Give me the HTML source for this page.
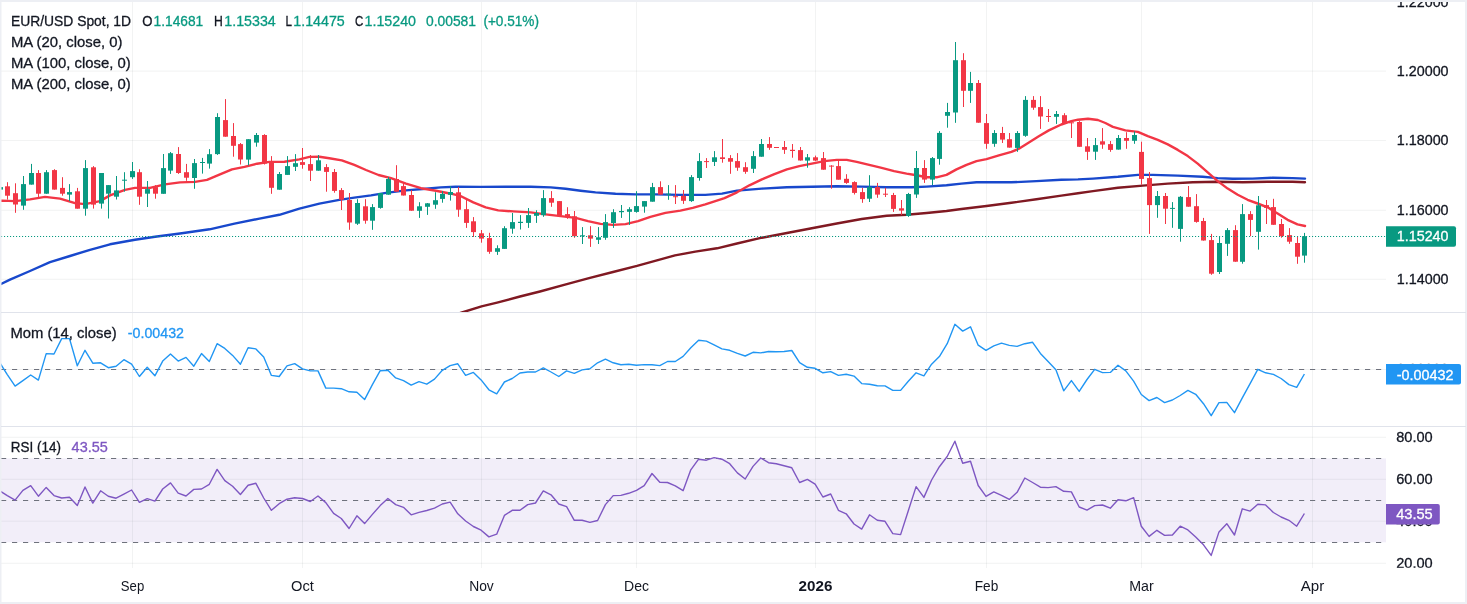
<!DOCTYPE html>
<html lang="en"><head><meta charset="utf-8"><title>EUR/USD Spot, 1D</title>
<style>html,body{margin:0;padding:0;background:#fff;}body{width:1467px;height:604px;overflow:hidden;}</style></head>
<body>
<svg width="1467" height="604" viewBox="0 0 1467 604" style="display:block" font-family="'Liberation Sans', sans-serif" font-size="14.5">
<rect x="0" y="0" width="1467" height="604" fill="#ffffff"/>
<defs>
<clipPath id="cpMain"><rect x="1" y="2" width="1385" height="310.5"/></clipPath>
<clipPath id="cpMom"><rect x="1" y="313" width="1385" height="113.5"/></clipPath>
<clipPath id="cpRsi"><rect x="1" y="427" width="1385" height="141"/></clipPath>
<clipPath id="cpAxR"><rect x="1386" y="427" width="80" height="140.7"/></clipPath>
</defs>
<rect x="0" y="458.4" width="1386" height="83.9" fill="#7e57c2" fill-opacity="0.1"/>
<g fill="#2a2e39" fill-opacity="0.06"><rect x="132" y="2" width="1" height="566" /><rect x="302" y="2" width="1" height="566" /><rect x="481" y="2" width="1" height="566" /><rect x="636" y="2" width="1" height="566" /><rect x="815" y="2" width="1" height="566" /><rect x="986" y="2" width="1" height="566" /><rect x="1141" y="2" width="1" height="566" /><rect x="1312" y="2" width="1" height="566" /><rect x="0" y="70.6" width="1386" height="1"/><rect x="0" y="140.0" width="1386" height="1"/><rect x="0" y="209.8" width="1386" height="1"/><rect x="0" y="278.8" width="1386" height="1"/><rect x="0" y="369.0" width="1386" height="1"/><rect x="0" y="436.8" width="1386" height="1"/><rect x="0" y="478.8" width="1386" height="1"/><rect x="0" y="520.7" width="1386" height="1"/><rect x="0" y="562.8" width="1386" height="1"/></g>
<g clip-path="url(#cpMain)" fill="none" stroke-linejoin="round" stroke-linecap="round">
<path d="M440.0,319.5 L462.0,312.5 L481.5,306.4 L497.1,302.6 L520.0,296.5 L540.0,291.5 L565.0,284.7 L589.0,278.1 L613.0,272.0 L637.0,265.9 L656.0,260.6 L675.0,255.4 L695.3,251.6 L717.0,248.3 L737.0,243.5 L761.9,237.7 L786.9,233.0 L811.8,228.2 L836.8,223.5 L861.7,219.0 L886.7,215.8 L906.6,214.8 L926.6,213.0 L946.5,211.0 L961.5,209.0 L986.5,206.0 L1011.4,202.8 L1036.4,199.3 L1061.3,195.6 L1078.0,193.2 L1093.0,191.1 L1117.9,187.8 L1142.8,185.6 L1167.8,183.6 L1192.8,182.3 L1217.7,181.8 L1242.7,182.3 L1267.6,181.8 L1292.5,181.8 L1305.0,182.3" stroke="#801922" stroke-width="2.4"/>
<path d="M0.0,284.5 L10.0,279.7 L30.0,271.0 L50.0,262.2 L70.0,256.0 L90.0,249.8 L110.0,244.3 L135.0,239.8 L155.0,236.8 L180.0,233.5 L209.6,229.3 L234.5,223.6 L259.5,218.6 L279.4,214.8 L299.4,208.6 L319.4,203.6 L339.3,199.9 L354.3,197.6 L371.0,195.4 L386.0,192.9 L406.0,190.4 L425.9,188.7 L440.8,187.4 L455.8,186.7 L480.8,186.9 L505.7,186.7 L530.7,186.7 L550.6,187.4 L565.6,188.7 L580.6,190.7 L595.5,192.4 L615.5,193.7 L635.4,194.4 L655.4,194.4 L680.4,194.9 L705.3,194.9 L722.0,193.6 L737.0,190.6 L761.9,188.6 L786.9,187.3 L811.8,186.8 L836.8,186.3 L861.7,186.6 L886.7,187.3 L911.6,187.3 L926.6,186.6 L946.5,185.3 L961.5,183.6 L976.5,182.3 L986.5,182.3 L1011.4,182.3 L1036.4,181.1 L1061.3,179.8 L1078.0,179.4 L1093.0,178.6 L1117.9,176.8 L1137.9,174.9 L1152.8,174.9 L1177.8,175.6 L1202.7,176.8 L1217.7,178.1 L1232.7,178.8 L1252.6,178.6 L1272.6,177.8 L1292.5,178.1 L1305.0,178.6" stroke="#1848cc" stroke-width="2.4"/>
<path d="M0.0,200.8 L2.0,200.6 L15.0,201.1 L30.0,199.4 L45.0,196.9 L60.0,198.6 L75.0,203.1 L85.0,204.1 L100.0,201.1 L110.0,195.4 L125.0,189.9 L135.0,187.9 L150.0,187.9 L165.0,184.4 L180.0,182.4 L195.0,181.9 L207.0,179.9 L220.0,174.4 L232.0,169.4 L244.5,166.9 L257.0,163.7 L269.5,161.9 L284.4,161.7 L299.4,159.4 L309.4,156.9 L319.4,156.7 L329.3,158.2 L341.8,160.4 L354.3,164.9 L366.0,170.0 L378.5,175.0 L391.0,178.2 L406.0,183.7 L421.0,188.2 L436.0,190.7 L451.0,193.7 L461.0,196.2 L473.3,202.4 L485.7,207.4 L498.2,210.4 L513.2,211.4 L530.7,212.4 L545.6,214.4 L560.6,216.1 L575.6,217.9 L588.0,221.1 L600.5,223.9 L613.0,224.9 L625.5,224.1 L638.0,221.1 L650.4,216.9 L665.4,212.9 L680.4,210.6 L692.8,207.9 L705.3,204.4 L715.3,201.1 L724.5,198.1 L737.0,192.3 L749.4,185.3 L761.9,179.3 L774.4,174.1 L786.9,169.4 L799.3,166.1 L811.8,163.6 L824.3,161.1 L836.8,159.9 L846.7,159.9 L856.7,161.9 L869.2,164.9 L881.7,167.9 L894.1,171.1 L906.6,173.6 L916.6,175.3 L926.6,177.3 L936.6,177.3 L946.5,174.9 L956.5,169.4 L966.5,164.9 L976.5,161.1 L986.5,159.1 L998.9,155.4 L1011.4,151.9 L1018.9,148.7 L1028.9,142.4 L1038.8,136.2 L1048.8,130.4 L1061.3,124.5 L1071.3,121.2 L1078.0,119.7 L1088.0,118.7 L1097.9,120.0 L1105.4,123.0 L1112.9,126.9 L1125.4,130.4 L1137.9,131.9 L1147.8,136.2 L1157.8,139.9 L1167.8,144.4 L1177.8,149.9 L1187.8,156.1 L1197.7,163.6 L1207.7,172.4 L1217.7,181.1 L1227.7,188.6 L1237.7,194.8 L1247.6,199.8 L1257.6,203.5 L1267.6,207.3 L1277.6,213.5 L1287.6,219.8 L1297.5,224.3 L1305.0,226.0" stroke="#f23645" stroke-width="2.4"/>
<rect x="0" y="187.1" width="1" height="2.5" fill="#089981"/><rect x="-2" y="187.1" width="5" height="2.5" fill="#089981"/><rect x="7" y="182.2" width="1" height="17.4" fill="#f23645"/><rect x="5" y="186.3" width="5" height="9.4" fill="#f23645"/><rect x="15" y="183.3" width="1" height="29.5" fill="#f23645"/><rect x="13" y="193.2" width="5" height="11.3" fill="#f23645"/><rect x="23" y="176.0" width="1" height="33.8" fill="#089981"/><rect x="21" y="184.1" width="5" height="21.5" fill="#089981"/><rect x="31" y="163.9" width="1" height="20.7" fill="#089981"/><rect x="29" y="173.0" width="5" height="11.6" fill="#089981"/><rect x="38" y="170.1" width="1" height="27.0" fill="#f23645"/><rect x="36" y="173.0" width="5" height="20.7" fill="#f23645"/><rect x="46" y="170.1" width="1" height="23.7" fill="#089981"/><rect x="44" y="172.2" width="5" height="21.5" fill="#089981"/><rect x="54" y="169.2" width="1" height="20.4" fill="#f23645"/><rect x="52" y="170.1" width="5" height="19.5" fill="#f23645"/><rect x="62" y="177.2" width="1" height="18.5" fill="#f23645"/><rect x="60" y="187.9" width="5" height="5.8" fill="#f23645"/><rect x="69" y="184.1" width="1" height="17.1" fill="#089981"/><rect x="67" y="192.1" width="5" height="2.5" fill="#089981"/><rect x="77" y="187.9" width="1" height="20.7" fill="#f23645"/><rect x="75" y="191.3" width="5" height="17.4" fill="#f23645"/><rect x="85" y="160.1" width="1" height="55.6" fill="#089981"/><rect x="83" y="168.1" width="5" height="40.6" fill="#089981"/><rect x="93" y="166.1" width="1" height="42.5" fill="#f23645"/><rect x="91" y="167.3" width="5" height="37.3" fill="#f23645"/><rect x="101" y="173.0" width="1" height="35.6" fill="#089981"/><rect x="99" y="173.0" width="5" height="30.6" fill="#089981"/><rect x="108" y="185.1" width="1" height="33.4" fill="#089981"/><rect x="106" y="185.1" width="5" height="8.6" fill="#089981"/><rect x="116" y="176.0" width="1" height="23.5" fill="#089981"/><rect x="114" y="190.4" width="5" height="6.3" fill="#089981"/><rect x="124" y="172.2" width="1" height="19.4" fill="#089981"/><rect x="122" y="179.7" width="5" height="1.0" fill="#089981"/><rect x="132" y="162.0" width="1" height="16.9" fill="#089981"/><rect x="130" y="171.1" width="5" height="6.1" fill="#089981"/><rect x="139" y="169.2" width="1" height="35.6" fill="#f23645"/><rect x="137" y="172.2" width="5" height="24.5" fill="#f23645"/><rect x="147" y="181.0" width="1" height="26.0" fill="#089981"/><rect x="145" y="189.1" width="5" height="4.6" fill="#089981"/><rect x="155" y="185.1" width="1" height="13.6" fill="#f23645"/><rect x="153" y="187.1" width="5" height="6.6" fill="#f23645"/><rect x="163" y="154.0" width="1" height="39.7" fill="#089981"/><rect x="161" y="168.1" width="5" height="25.7" fill="#089981"/><rect x="170" y="152.0" width="1" height="21.9" fill="#089981"/><rect x="168" y="153.2" width="5" height="17.4" fill="#089981"/><rect x="178" y="147.1" width="1" height="26.8" fill="#f23645"/><rect x="176" y="154.0" width="5" height="19.0" fill="#f23645"/><rect x="186" y="163.9" width="1" height="16.9" fill="#f23645"/><rect x="184" y="172.2" width="5" height="5.5" fill="#f23645"/><rect x="194" y="159.0" width="1" height="29.8" fill="#089981"/><rect x="192" y="163.1" width="5" height="14.9" fill="#089981"/><rect x="202" y="157.9" width="1" height="15.7" fill="#089981"/><rect x="200" y="162.0" width="5" height="1.0" fill="#089981"/><rect x="209" y="149.1" width="1" height="19.5" fill="#089981"/><rect x="207" y="154.2" width="5" height="9.4" fill="#089981"/><rect x="217" y="113.2" width="1" height="41.7" fill="#089981"/><rect x="215" y="117.0" width="5" height="37.1" fill="#089981"/><rect x="225" y="99.1" width="1" height="37.6" fill="#f23645"/><rect x="223" y="120.1" width="5" height="16.6" fill="#f23645"/><rect x="233" y="123.1" width="1" height="33.6" fill="#f23645"/><rect x="231" y="136.0" width="5" height="9.8" fill="#f23645"/><rect x="240" y="143.0" width="1" height="21.5" fill="#f23645"/><rect x="238" y="144.1" width="5" height="15.4" fill="#f23645"/><rect x="248" y="139.2" width="1" height="26.2" fill="#089981"/><rect x="246" y="139.2" width="5" height="20.4" fill="#089981"/><rect x="256" y="133.0" width="1" height="13.7" fill="#089981"/><rect x="254" y="135.0" width="5" height="7.6" fill="#089981"/><rect x="264" y="134.2" width="1" height="30.3" fill="#f23645"/><rect x="262" y="135.0" width="5" height="28.6" fill="#f23645"/><rect x="271" y="156.1" width="1" height="37.7" fill="#f23645"/><rect x="269" y="161.3" width="5" height="26.5" fill="#f23645"/><rect x="279" y="172.0" width="1" height="17.7" fill="#089981"/><rect x="277" y="174.0" width="5" height="15.7" fill="#089981"/><rect x="287" y="156.1" width="1" height="18.7" fill="#089981"/><rect x="285" y="166.1" width="5" height="8.8" fill="#089981"/><rect x="295" y="154.1" width="1" height="16.9" fill="#089981"/><rect x="293" y="163.2" width="5" height="3.6" fill="#089981"/><rect x="302" y="148.0" width="1" height="20.7" fill="#f23645"/><rect x="300" y="162.1" width="5" height="2.8" fill="#f23645"/><rect x="310" y="155.0" width="1" height="26.0" fill="#f23645"/><rect x="308" y="164.1" width="5" height="6.6" fill="#f23645"/><rect x="318" y="155.0" width="1" height="15.7" fill="#089981"/><rect x="316" y="160.3" width="5" height="10.4" fill="#089981"/><rect x="326" y="164.1" width="1" height="27.6" fill="#f23645"/><rect x="324" y="167.1" width="5" height="4.8" fill="#f23645"/><rect x="334" y="169.0" width="1" height="23.7" fill="#f23645"/><rect x="332" y="172.0" width="5" height="18.9" fill="#f23645"/><rect x="341" y="188.1" width="1" height="21.9" fill="#f23645"/><rect x="339" y="190.1" width="5" height="9.6" fill="#f23645"/><rect x="349" y="193.0" width="1" height="36.8" fill="#f23645"/><rect x="347" y="200.0" width="5" height="22.5" fill="#f23645"/><rect x="357" y="199.2" width="1" height="25.7" fill="#089981"/><rect x="355" y="203.0" width="5" height="20.7" fill="#089981"/><rect x="365" y="199.2" width="1" height="24.5" fill="#f23645"/><rect x="363" y="206.3" width="5" height="14.4" fill="#f23645"/><rect x="372" y="204.1" width="1" height="25.7" fill="#089981"/><rect x="370" y="207.1" width="5" height="13.6" fill="#089981"/><rect x="380" y="193.0" width="1" height="15.7" fill="#089981"/><rect x="378" y="193.0" width="5" height="14.9" fill="#089981"/><rect x="388" y="177.0" width="1" height="17.7" fill="#089981"/><rect x="386" y="179.0" width="5" height="15.7" fill="#089981"/><rect x="396" y="165.2" width="1" height="26.5" fill="#f23645"/><rect x="394" y="179.0" width="5" height="12.7" fill="#f23645"/><rect x="403" y="183.1" width="1" height="12.4" fill="#f23645"/><rect x="401" y="186.1" width="5" height="9.4" fill="#f23645"/><rect x="411" y="190.1" width="1" height="20.7" fill="#f23645"/><rect x="409" y="195.0" width="5" height="15.7" fill="#f23645"/><rect x="419" y="202.2" width="1" height="15.7" fill="#089981"/><rect x="417" y="206.3" width="5" height="4.5" fill="#089981"/><rect x="427" y="203.0" width="1" height="11.9" fill="#089981"/><rect x="425" y="203.3" width="5" height="3.5" fill="#089981"/><rect x="435" y="192.2" width="1" height="16.6" fill="#089981"/><rect x="433" y="200.2" width="5" height="4.5" fill="#089981"/><rect x="442" y="191.1" width="1" height="11.6" fill="#089981"/><rect x="440" y="193.9" width="5" height="5.0" fill="#089981"/><rect x="450" y="186.2" width="1" height="14.4" fill="#089981"/><rect x="448" y="192.0" width="5" height="2.8" fill="#089981"/><rect x="458" y="187.0" width="1" height="29.8" fill="#f23645"/><rect x="456" y="192.3" width="5" height="17.4" fill="#f23645"/><rect x="466" y="198.9" width="1" height="29.0" fill="#f23645"/><rect x="464" y="209.2" width="5" height="13.7" fill="#f23645"/><rect x="473" y="217.1" width="1" height="19.9" fill="#f23645"/><rect x="471" y="221.3" width="5" height="10.8" fill="#f23645"/><rect x="481" y="230.0" width="1" height="12.7" fill="#f23645"/><rect x="479" y="233.3" width="5" height="5.3" fill="#f23645"/><rect x="489" y="232.8" width="1" height="21.0" fill="#f23645"/><rect x="487" y="238.1" width="5" height="13.7" fill="#f23645"/><rect x="497" y="245.3" width="1" height="9.6" fill="#089981"/><rect x="495" y="248.2" width="5" height="3.6" fill="#089981"/><rect x="504" y="226.2" width="1" height="22.7" fill="#089981"/><rect x="502" y="228.2" width="5" height="20.7" fill="#089981"/><rect x="512" y="213.0" width="1" height="20.7" fill="#089981"/><rect x="510" y="222.1" width="5" height="6.6" fill="#089981"/><rect x="520" y="215.1" width="1" height="14.4" fill="#089981"/><rect x="518" y="221.8" width="5" height="1.2" fill="#089981"/><rect x="528" y="208.0" width="1" height="19.9" fill="#089981"/><rect x="526" y="215.1" width="5" height="7.8" fill="#089981"/><rect x="536" y="210.2" width="1" height="12.7" fill="#089981"/><rect x="534" y="213.0" width="5" height="2.8" fill="#089981"/><rect x="543" y="190.1" width="1" height="26.7" fill="#089981"/><rect x="541" y="198.1" width="5" height="17.1" fill="#089981"/><rect x="551" y="191.1" width="1" height="15.7" fill="#f23645"/><rect x="549" y="198.1" width="5" height="4.6" fill="#f23645"/><rect x="559" y="201.1" width="1" height="14.4" fill="#f23645"/><rect x="557" y="201.1" width="5" height="14.4" fill="#f23645"/><rect x="567" y="207.2" width="1" height="11.6" fill="#f23645"/><rect x="565" y="214.1" width="5" height="3.0" fill="#f23645"/><rect x="574" y="211.0" width="1" height="26.8" fill="#f23645"/><rect x="572" y="216.3" width="5" height="19.9" fill="#f23645"/><rect x="582" y="227.1" width="1" height="16.9" fill="#089981"/><rect x="580" y="235.3" width="5" height="1.0" fill="#089981"/><rect x="590" y="226.2" width="1" height="20.7" fill="#f23645"/><rect x="588" y="235.3" width="5" height="3.3" fill="#f23645"/><rect x="598" y="227.1" width="1" height="16.9" fill="#089981"/><rect x="596" y="237.3" width="5" height="2.5" fill="#089981"/><rect x="605" y="214.1" width="1" height="25.7" fill="#089981"/><rect x="603" y="222.1" width="5" height="15.7" fill="#089981"/><rect x="613" y="209.2" width="1" height="18.7" fill="#089981"/><rect x="611" y="212.2" width="5" height="10.8" fill="#089981"/><rect x="621" y="205.0" width="1" height="12.9" fill="#089981"/><rect x="619" y="211.0" width="5" height="1.2" fill="#089981"/><rect x="629" y="207.2" width="1" height="17.7" fill="#089981"/><rect x="627" y="209.2" width="5" height="2.6" fill="#089981"/><rect x="636" y="191.2" width="1" height="21.5" fill="#089981"/><rect x="634" y="206.1" width="5" height="5.8" fill="#089981"/><rect x="644" y="201.1" width="1" height="11.6" fill="#089981"/><rect x="642" y="201.1" width="5" height="5.5" fill="#089981"/><rect x="652" y="182.9" width="1" height="18.7" fill="#089981"/><rect x="650" y="187.1" width="5" height="14.6" fill="#089981"/><rect x="660" y="181.3" width="1" height="13.2" fill="#f23645"/><rect x="658" y="187.1" width="5" height="7.5" fill="#f23645"/><rect x="668" y="185.1" width="1" height="14.7" fill="#089981"/><rect x="666" y="193.7" width="5" height="1.0" fill="#089981"/><rect x="675" y="185.1" width="1" height="18.9" fill="#f23645"/><rect x="673" y="196.2" width="5" height="1.0" fill="#f23645"/><rect x="683" y="190.0" width="1" height="13.9" fill="#f23645"/><rect x="681" y="195.8" width="5" height="5.0" fill="#f23645"/><rect x="691" y="175.1" width="1" height="26.8" fill="#089981"/><rect x="689" y="177.1" width="5" height="24.0" fill="#089981"/><rect x="699" y="153.1" width="1" height="27.6" fill="#089981"/><rect x="697" y="161.1" width="5" height="16.9" fill="#089981"/><rect x="706" y="158.1" width="1" height="9.9" fill="#f23645"/><rect x="704" y="161.1" width="5" height="1.0" fill="#f23645"/><rect x="714" y="151.1" width="1" height="14.9" fill="#089981"/><rect x="712" y="157.3" width="5" height="4.6" fill="#089981"/><rect x="722" y="139.0" width="1" height="23.7" fill="#f23645"/><rect x="720" y="157.3" width="5" height="1.7" fill="#f23645"/><rect x="730" y="155.1" width="1" height="18.7" fill="#f23645"/><rect x="728" y="158.1" width="5" height="3.6" fill="#f23645"/><rect x="737" y="153.1" width="1" height="17.7" fill="#f23645"/><rect x="735" y="161.1" width="5" height="6.6" fill="#f23645"/><rect x="745" y="162.2" width="1" height="11.6" fill="#f23645"/><rect x="743" y="167.2" width="5" height="4.6" fill="#f23645"/><rect x="753" y="151.1" width="1" height="21.9" fill="#089981"/><rect x="751" y="156.1" width="5" height="12.7" fill="#089981"/><rect x="761" y="139.0" width="1" height="17.7" fill="#089981"/><rect x="759" y="144.0" width="5" height="12.7" fill="#089981"/><rect x="769" y="137.1" width="1" height="12.7" fill="#f23645"/><rect x="767" y="144.0" width="5" height="3.8" fill="#f23645"/><rect x="776" y="147.0" width="1" height="1.0" fill="#f23645"/><rect x="774" y="147.0" width="5" height="1.0" fill="#f23645"/><rect x="784" y="141.0" width="1" height="12.9" fill="#f23645"/><rect x="782" y="147.0" width="5" height="2.8" fill="#f23645"/><rect x="792" y="144.0" width="1" height="13.7" fill="#f23645"/><rect x="790" y="149.8" width="5" height="1.2" fill="#f23645"/><rect x="800" y="147.0" width="1" height="13.6" fill="#f23645"/><rect x="798" y="150.1" width="5" height="10.4" fill="#f23645"/><rect x="807" y="154.0" width="1" height="13.7" fill="#089981"/><rect x="805" y="157.3" width="5" height="3.3" fill="#089981"/><rect x="815" y="155.6" width="1" height="5.5" fill="#f23645"/><rect x="813" y="157.3" width="5" height="3.3" fill="#f23645"/><rect x="823" y="152.0" width="1" height="17.7" fill="#f23645"/><rect x="821" y="158.1" width="5" height="11.6" fill="#f23645"/><rect x="831" y="165.2" width="1" height="23.5" fill="#f23645"/><rect x="829" y="165.6" width="5" height="1.0" fill="#f23645"/><rect x="838" y="160.6" width="1" height="19.0" fill="#f23645"/><rect x="836" y="166.1" width="5" height="13.6" fill="#f23645"/><rect x="846" y="174.2" width="1" height="9.6" fill="#f23645"/><rect x="844" y="178.8" width="5" height="4.1" fill="#f23645"/><rect x="854" y="181.3" width="1" height="13.2" fill="#f23645"/><rect x="852" y="182.1" width="5" height="10.8" fill="#f23645"/><rect x="862" y="187.9" width="1" height="14.9" fill="#f23645"/><rect x="860" y="192.1" width="5" height="7.0" fill="#f23645"/><rect x="869" y="175.2" width="1" height="26.8" fill="#089981"/><rect x="867" y="187.1" width="5" height="11.6" fill="#089981"/><rect x="877" y="182.9" width="1" height="14.9" fill="#f23645"/><rect x="875" y="187.1" width="5" height="7.5" fill="#f23645"/><rect x="885" y="187.9" width="1" height="9.1" fill="#f23645"/><rect x="883" y="193.7" width="5" height="1.0" fill="#f23645"/><rect x="893" y="192.9" width="1" height="19.0" fill="#f23645"/><rect x="891" y="195.0" width="5" height="13.9" fill="#f23645"/><rect x="901" y="200.0" width="1" height="14.9" fill="#f23645"/><rect x="899" y="208.3" width="5" height="2.3" fill="#f23645"/><rect x="908" y="192.9" width="1" height="24.0" fill="#089981"/><rect x="906" y="194.0" width="5" height="22.0" fill="#089981"/><rect x="916" y="151.0" width="1" height="46.9" fill="#089981"/><rect x="914" y="168.0" width="5" height="26.5" fill="#089981"/><rect x="924" y="160.1" width="1" height="22.8" fill="#f23645"/><rect x="922" y="168.0" width="5" height="11.6" fill="#f23645"/><rect x="932" y="157.0" width="1" height="28.0" fill="#089981"/><rect x="930" y="158.1" width="5" height="21.5" fill="#089981"/><rect x="939" y="131.1" width="1" height="33.6" fill="#089981"/><rect x="937" y="132.9" width="5" height="26.0" fill="#089981"/><rect x="947" y="102.9" width="1" height="24.8" fill="#089981"/><rect x="945" y="112.0" width="5" height="3.8" fill="#089981"/><rect x="955" y="42.0" width="1" height="80.8" fill="#089981"/><rect x="953" y="60.2" width="5" height="52.3" fill="#089981"/><rect x="963" y="53.2" width="1" height="53.8" fill="#f23645"/><rect x="961" y="60.2" width="5" height="30.6" fill="#f23645"/><rect x="970" y="71.9" width="1" height="31.0" fill="#089981"/><rect x="968" y="83.0" width="5" height="7.8" fill="#089981"/><rect x="978" y="80.0" width="1" height="42.7" fill="#f23645"/><rect x="976" y="83.0" width="5" height="39.7" fill="#f23645"/><rect x="986" y="114.0" width="1" height="34.8" fill="#f23645"/><rect x="984" y="123.1" width="5" height="20.7" fill="#f23645"/><rect x="994" y="130.1" width="1" height="16.7" fill="#089981"/><rect x="992" y="133.0" width="5" height="10.8" fill="#089981"/><rect x="1002" y="126.9" width="1" height="16.1" fill="#f23645"/><rect x="1000" y="133.0" width="5" height="6.6" fill="#f23645"/><rect x="1009" y="133.0" width="1" height="14.6" fill="#f23645"/><rect x="1007" y="139.2" width="5" height="8.4" fill="#f23645"/><rect x="1017" y="131.1" width="1" height="20.7" fill="#089981"/><rect x="1015" y="133.0" width="5" height="14.9" fill="#089981"/><rect x="1025" y="96.1" width="1" height="40.7" fill="#089981"/><rect x="1023" y="99.9" width="5" height="35.9" fill="#089981"/><rect x="1033" y="96.1" width="1" height="13.7" fill="#f23645"/><rect x="1031" y="99.9" width="5" height="7.8" fill="#f23645"/><rect x="1040" y="96.1" width="1" height="32.8" fill="#f23645"/><rect x="1038" y="107.1" width="5" height="9.4" fill="#f23645"/><rect x="1048" y="109.0" width="1" height="12.9" fill="#f23645"/><rect x="1046" y="116.0" width="5" height="1.0" fill="#f23645"/><rect x="1056" y="111.0" width="1" height="12.9" fill="#089981"/><rect x="1054" y="114.0" width="5" height="2.8" fill="#089981"/><rect x="1064" y="113.2" width="1" height="10.8" fill="#f23645"/><rect x="1062" y="115.2" width="5" height="7.9" fill="#f23645"/><rect x="1071" y="122.3" width="1" height="15.7" fill="#f23645"/><rect x="1069" y="122.3" width="5" height="1.0" fill="#f23645"/><rect x="1079" y="121.1" width="1" height="25.7" fill="#f23645"/><rect x="1077" y="122.0" width="5" height="24.8" fill="#f23645"/><rect x="1087" y="138.0" width="1" height="21.9" fill="#f23645"/><rect x="1085" y="146.3" width="5" height="5.5" fill="#f23645"/><rect x="1095" y="138.0" width="1" height="21.9" fill="#089981"/><rect x="1093" y="145.1" width="5" height="6.6" fill="#089981"/><rect x="1102" y="128.1" width="1" height="20.7" fill="#f23645"/><rect x="1100" y="141.3" width="5" height="3.3" fill="#f23645"/><rect x="1110" y="141.0" width="1" height="10.8" fill="#f23645"/><rect x="1108" y="144.1" width="5" height="5.8" fill="#f23645"/><rect x="1118" y="135.0" width="1" height="14.6" fill="#089981"/><rect x="1116" y="138.0" width="5" height="11.6" fill="#089981"/><rect x="1126" y="132.2" width="1" height="16.6" fill="#f23645"/><rect x="1124" y="138.0" width="5" height="2.8" fill="#f23645"/><rect x="1134" y="131.4" width="1" height="12.4" fill="#089981"/><rect x="1132" y="135.0" width="5" height="5.8" fill="#089981"/><rect x="1141" y="141.7" width="1" height="43.0" fill="#f23645"/><rect x="1139" y="151.9" width="5" height="27.0" fill="#f23645"/><rect x="1149" y="172.0" width="1" height="61.9" fill="#f23645"/><rect x="1147" y="178.1" width="5" height="27.0" fill="#f23645"/><rect x="1157" y="191.0" width="1" height="26.8" fill="#089981"/><rect x="1155" y="196.0" width="5" height="9.1" fill="#089981"/><rect x="1165" y="193.0" width="1" height="31.0" fill="#f23645"/><rect x="1163" y="196.0" width="5" height="12.7" fill="#f23645"/><rect x="1172" y="202.1" width="1" height="25.7" fill="#089981"/><rect x="1170" y="207.9" width="5" height="1.0" fill="#089981"/><rect x="1180" y="196.0" width="1" height="45.7" fill="#089981"/><rect x="1178" y="196.8" width="5" height="32.1" fill="#089981"/><rect x="1188" y="186.0" width="1" height="20.7" fill="#f23645"/><rect x="1186" y="197.1" width="5" height="9.6" fill="#f23645"/><rect x="1196" y="194.1" width="1" height="28.6" fill="#f23645"/><rect x="1194" y="206.2" width="5" height="15.7" fill="#f23645"/><rect x="1203" y="217.9" width="1" height="22.7" fill="#f23645"/><rect x="1201" y="221.0" width="5" height="19.5" fill="#f23645"/><rect x="1211" y="233.9" width="1" height="40.9" fill="#f23645"/><rect x="1209" y="240.1" width="5" height="33.6" fill="#f23645"/><rect x="1219" y="236.1" width="1" height="37.9" fill="#089981"/><rect x="1217" y="243.0" width="5" height="29.0" fill="#089981"/><rect x="1227" y="228.1" width="1" height="27.8" fill="#089981"/><rect x="1225" y="230.1" width="5" height="13.7" fill="#089981"/><rect x="1235" y="225.2" width="1" height="36.6" fill="#f23645"/><rect x="1233" y="230.1" width="5" height="31.6" fill="#f23645"/><rect x="1242" y="204.1" width="1" height="59.6" fill="#089981"/><rect x="1240" y="214.1" width="5" height="47.7" fill="#089981"/><rect x="1250" y="211.1" width="1" height="25.0" fill="#f23645"/><rect x="1248" y="214.1" width="5" height="5.8" fill="#f23645"/><rect x="1258" y="196.0" width="1" height="53.6" fill="#089981"/><rect x="1256" y="205.3" width="5" height="26.5" fill="#089981"/><rect x="1266" y="200.0" width="1" height="24.0" fill="#f23645"/><rect x="1264" y="205.1" width="5" height="2.8" fill="#f23645"/><rect x="1273" y="198.8" width="1" height="26.0" fill="#f23645"/><rect x="1271" y="207.1" width="5" height="17.7" fill="#f23645"/><rect x="1281" y="219.0" width="1" height="18.7" fill="#f23645"/><rect x="1279" y="224.0" width="5" height="12.1" fill="#f23645"/><rect x="1289" y="228.1" width="1" height="15.7" fill="#f23645"/><rect x="1287" y="235.1" width="5" height="6.6" fill="#f23645"/><rect x="1297" y="236.8" width="1" height="27.0" fill="#f23645"/><rect x="1295" y="243.0" width="5" height="13.7" fill="#f23645"/><rect x="1304" y="232.9" width="1" height="29.8" fill="#089981"/><rect x="1302" y="236.2" width="5" height="19.4" fill="#089981"/>
</g>
<line x1="1" y1="236.5" x2="1386" y2="236.5" stroke="#089981" stroke-width="1.1" stroke-dasharray="1.1 1.9"/>
<g clip-path="url(#cpMom)" fill="none">
<line x1="1" y1="369.5" x2="1386" y2="369.5" stroke="#6f727d" stroke-width="1" stroke-dasharray="5.2 5.8"/>
<path d="M-0.4,362.4 L7.3,374.6 L15.1,386.1 L22.9,380.6 L30.7,375.0 L38.4,380.1 L46.2,353.6 L54.0,354.0 L61.7,338.6 L69.5,338.6 L77.3,365.8 L85.0,350.3 L92.8,363.2 L100.6,362.8 L108.3,367.7 L116.1,366.2 L123.9,359.7 L131.6,364.2 L139.4,376.5 L147.2,367.3 L154.9,375.8 L162.7,361.1 L170.5,354.0 L178.2,361.1 L186.0,357.4 L193.8,366.2 L201.5,353.6 L209.3,361.5 L217.1,343.7 L224.8,348.4 L232.6,355.4 L240.4,364.2 L248.1,347.8 L255.9,348.9 L263.7,357.0 L271.4,375.4 L279.2,376.5 L287.0,365.8 L294.7,363.6 L302.5,368.9 L310.3,370.9 L318.0,370.9 L325.8,388.1 L333.6,388.1 L341.3,388.7 L349.1,391.8 L356.9,392.2 L364.6,399.6 L372.4,384.6 L380.2,370.7 L387.9,370.3 L395.7,377.9 L403.5,380.6 L411.2,385.1 L419.0,381.6 L426.8,384.2 L434.5,379.1 L442.3,370.3 L450.1,365.6 L457.8,363.8 L465.6,375.4 L473.4,372.4 L481.1,379.9 L488.9,389.8 L496.7,393.8 L504.4,382.0 L512.2,378.5 L520.0,373.0 L527.7,372.0 L535.5,372.0 L543.3,367.9 L551.0,372.0 L558.8,376.5 L566.6,370.9 L574.3,373.4 L582.1,369.9 L589.9,368.7 L597.6,362.8 L605.4,359.1 L613.2,362.8 L620.9,364.8 L628.7,364.2 L636.5,365.2 L644.2,364.6 L652.0,364.8 L659.8,365.6 L667.5,361.5 L675.3,361.5 L683.1,356.4 L690.8,347.8 L698.6,340.3 L706.4,341.1 L714.1,344.8 L721.9,348.9 L729.7,350.3 L737.4,353.4 L745.2,356.0 L753.0,352.3 L760.7,352.9 L768.5,351.5 L776.3,351.7 L784.1,351.5 L791.8,350.5 L799.6,362.6 L807.4,367.3 L815.1,368.3 L822.9,372.8 L830.7,371.6 L838.4,375.4 L846.2,374.2 L854.0,376.1 L861.7,383.6 L869.5,384.2 L877.3,385.7 L885.0,385.9 L892.8,390.4 L900.6,390.4 L908.3,381.2 L916.1,372.8 L923.9,375.8 L931.6,364.2 L939.4,356.6 L947.2,343.7 L954.9,324.3 L962.7,331.1 L970.5,326.8 L978.2,345.2 L986.0,350.3 L993.8,345.8 L1001.5,343.1 L1009.3,345.4 L1017.1,346.4 L1024.8,343.7 L1032.6,342.3 L1040.4,353.4 L1048.1,361.5 L1055.9,369.7 L1063.7,390.8 L1071.4,380.6 L1079.2,391.4 L1087.0,379.5 L1094.7,369.3 L1102.5,372.6 L1110.3,372.4 L1118.0,365.2 L1125.8,370.9 L1133.6,381.2 L1141.3,394.5 L1149.1,400.6 L1156.9,397.5 L1164.6,402.6 L1172.4,400.0 L1180.2,395.5 L1187.9,390.4 L1195.7,394.3 L1203.5,403.7 L1211.2,415.7 L1219.0,402.6 L1226.8,402.4 L1234.5,412.7 L1242.3,397.9 L1250.1,383.6 L1257.8,369.3 L1265.6,372.8 L1273.4,374.4 L1281.1,378.5 L1288.9,384.6 L1296.7,387.3 L1304.4,374.0" stroke="#2196f3" stroke-width="1.4" stroke-linejoin="round"/>
</g>
<g clip-path="url(#cpRsi)" fill="none">
<line x1="1" y1="458.5" x2="1386" y2="458.5" stroke="#6f727d" stroke-width="1" stroke-dasharray="5.2 5.8"/>
<line x1="1" y1="500.5" x2="1386" y2="500.5" stroke="#6f727d" stroke-width="1" stroke-dasharray="5.2 5.8"/>
<line x1="1" y1="542.5" x2="1386" y2="542.5" stroke="#6f727d" stroke-width="1" stroke-dasharray="5.2 5.8"/>
<path d="M-0.4,490.8 L7.3,495.6 L15.1,500.1 L22.9,490.4 L30.7,485.7 L38.4,496.2 L46.2,487.4 L54.0,495.6 L61.7,498.0 L69.5,497.2 L77.3,505.4 L85.0,487.0 L92.8,503.1 L100.6,490.8 L108.3,496.2 L116.1,498.2 L123.9,494.1 L131.6,490.0 L139.4,502.3 L147.2,498.6 L154.9,501.1 L162.7,489.0 L170.5,482.9 L178.2,493.1 L186.0,496.0 L193.8,489.4 L201.5,489.0 L209.3,484.3 L217.1,469.4 L224.8,480.6 L232.6,486.3 L240.4,494.5 L248.1,485.3 L255.9,483.3 L263.7,498.0 L271.4,510.3 L279.2,503.7 L287.0,499.2 L294.7,497.8 L302.5,498.5 L310.3,501.5 L318.0,496.0 L325.8,502.6 L333.6,513.4 L341.3,518.5 L349.1,528.5 L356.9,515.8 L364.6,523.6 L372.4,514.4 L380.2,505.6 L387.9,498.5 L395.7,504.6 L403.5,507.3 L411.2,514.8 L419.0,512.4 L426.8,510.5 L434.5,508.1 L442.3,504.0 L450.1,502.1 L457.8,513.8 L465.6,521.0 L473.4,526.5 L481.1,530.2 L488.9,536.9 L496.7,534.2 L504.4,515.4 L512.2,510.3 L520.0,510.3 L527.7,504.6 L535.5,503.0 L543.3,490.9 L551.0,494.8 L558.8,504.0 L566.6,506.6 L574.3,520.3 L582.1,520.3 L589.9,522.4 L597.6,520.5 L605.4,504.6 L613.2,495.6 L620.9,495.4 L628.7,493.3 L636.5,490.3 L644.2,485.6 L652.0,473.5 L659.8,482.3 L667.5,482.5 L675.3,485.8 L683.1,490.7 L690.8,469.8 L698.6,459.2 L706.4,460.2 L714.1,457.6 L721.9,459.2 L729.7,463.7 L737.4,472.9 L745.2,479.0 L753.0,466.4 L760.7,458.0 L768.5,462.7 L776.3,463.7 L784.1,465.7 L791.8,467.8 L799.6,482.5 L807.4,479.4 L815.1,484.1 L822.9,497.0 L830.7,494.0 L838.4,510.3 L846.2,513.8 L854.0,524.0 L861.7,529.1 L869.5,514.8 L877.3,520.3 L885.0,521.3 L892.8,533.6 L900.6,534.6 L908.3,510.7 L916.1,486.6 L923.9,497.4 L931.6,480.0 L939.4,466.7 L947.2,456.5 L954.9,441.2 L962.7,463.2 L970.5,461.2 L978.2,485.5 L986.0,496.4 L993.8,491.9 L1001.5,495.3 L1009.3,499.4 L1017.1,492.3 L1024.8,478.0 L1032.6,482.5 L1040.4,487.2 L1048.1,487.6 L1055.9,486.6 L1063.7,491.3 L1071.4,491.9 L1079.2,507.0 L1087.0,510.1 L1094.7,505.6 L1102.5,505.0 L1110.3,508.2 L1118.0,499.8 L1125.8,500.8 L1133.6,497.6 L1141.3,526.2 L1149.1,536.4 L1156.9,530.3 L1164.6,535.4 L1172.4,535.0 L1180.2,526.2 L1187.9,529.9 L1195.7,537.0 L1203.5,544.8 L1211.2,555.4 L1219.0,531.9 L1226.8,523.7 L1234.5,535.0 L1242.3,508.8 L1250.1,511.1 L1257.8,504.3 L1265.6,504.9 L1273.4,512.5 L1281.1,517.0 L1288.9,520.3 L1296.7,526.2 L1304.4,513.5" stroke="#7e57c2" stroke-width="1.4" stroke-linejoin="round"/>
</g>
<text x="10.9" y="25.8" fill="#131722" stroke="#131722" stroke-width="0.3" textLength="120.2" lengthAdjust="spacingAndGlyphs">EUR/USD Spot, 1D</text>
<text x="142.2" y="25.8" fill="#131722" stroke="#131722" stroke-width="0.3" textLength="10.2" lengthAdjust="spacingAndGlyphs">O</text>
<text x="153.6" y="25.8" fill="#089981" stroke="#089981" stroke-width="0.3" textLength="49.6" lengthAdjust="spacingAndGlyphs">1.14681</text>
<text x="214.0" y="25.8" fill="#131722" stroke="#131722" stroke-width="0.3" textLength="8.8" lengthAdjust="spacingAndGlyphs">H</text>
<text x="224.3" y="25.8" fill="#089981" stroke="#089981" stroke-width="0.3" textLength="51.5" lengthAdjust="spacingAndGlyphs">1.15334</text>
<text x="285.6" y="25.8" fill="#131722" stroke="#131722" stroke-width="0.3" textLength="6.5" lengthAdjust="spacingAndGlyphs">L</text>
<text x="293.3" y="25.8" fill="#089981" stroke="#089981" stroke-width="0.3" textLength="51.5" lengthAdjust="spacingAndGlyphs">1.14475</text>
<text x="355.0" y="25.8" fill="#131722" stroke="#131722" stroke-width="0.3" textLength="8.3" lengthAdjust="spacingAndGlyphs">C</text>
<text x="364.5" y="25.8" fill="#089981" stroke="#089981" stroke-width="0.3" textLength="51.5" lengthAdjust="spacingAndGlyphs">1.15240</text>
<text x="426.0" y="25.8" fill="#089981" stroke="#089981" stroke-width="0.3" textLength="50.0" lengthAdjust="spacingAndGlyphs">0.00581</text>
<text x="483.4" y="25.8" fill="#089981" stroke="#089981" stroke-width="0.3" textLength="55.6" lengthAdjust="spacingAndGlyphs">(+0.51%)</text>
<text x="10.9" y="46.8" fill="#131722" stroke="#131722" stroke-width="0.3" textLength="111.5" lengthAdjust="spacingAndGlyphs">MA (20, close, 0)</text>
<text x="10.9" y="67.7" fill="#131722" stroke="#131722" stroke-width="0.3" textLength="119.8" lengthAdjust="spacingAndGlyphs">MA (100, close, 0)</text>
<text x="10.9" y="88.7" fill="#131722" stroke="#131722" stroke-width="0.3" textLength="119.8" lengthAdjust="spacingAndGlyphs">MA (200, close, 0)</text>
<text x="10.4" y="337.6" fill="#131722" stroke="#131722" stroke-width="0.3" textLength="106.2" lengthAdjust="spacingAndGlyphs">Mom (14, close)</text>
<text x="127.8" y="337.6" fill="#2196f3" stroke="#2196f3" stroke-width="0.3" textLength="56.2" lengthAdjust="spacingAndGlyphs">-0.00432</text>
<text x="10.8" y="451.6" fill="#131722" stroke="#131722" stroke-width="0.3" textLength="50.1" lengthAdjust="spacingAndGlyphs">RSI (14)</text>
<text x="71.6" y="451.6" fill="#7e57c2" stroke="#7e57c2" stroke-width="0.3" textLength="36.2" lengthAdjust="spacingAndGlyphs">43.55</text>
<text x="1396.8" y="6.6" fill="#131722" stroke="#131722" stroke-width="0.3" textLength="51.8" lengthAdjust="spacingAndGlyphs">1.22000</text>
<text x="1396.8" y="76.0" fill="#131722" stroke="#131722" stroke-width="0.3" textLength="51.8" lengthAdjust="spacingAndGlyphs">1.20000</text>
<text x="1396.8" y="145.4" fill="#131722" stroke="#131722" stroke-width="0.3" textLength="51.8" lengthAdjust="spacingAndGlyphs">1.18000</text>
<text x="1396.8" y="215.2" fill="#131722" stroke="#131722" stroke-width="0.3" textLength="51.8" lengthAdjust="spacingAndGlyphs">1.16000</text>
<text x="1396.8" y="284.2" fill="#131722" stroke="#131722" stroke-width="0.3" textLength="51.8" lengthAdjust="spacingAndGlyphs">1.14000</text>
<text x="1396.8" y="373.8" fill="#131722" stroke="#131722" stroke-width="0.3" textLength="51.8" lengthAdjust="spacingAndGlyphs">0.00000</text>
<g clip-path="url(#cpAxR)">
<text x="1396.2" y="442.3" fill="#131722" stroke="#131722" stroke-width="0.3" textLength="36.5" lengthAdjust="spacingAndGlyphs">80.00</text>
<text x="1396.2" y="484.4" fill="#131722" stroke="#131722" stroke-width="0.3" textLength="36.5" lengthAdjust="spacingAndGlyphs">60.00</text>
<text x="1396.2" y="526.3" fill="#131722" stroke="#131722" stroke-width="0.3" textLength="36.5" lengthAdjust="spacingAndGlyphs">40.00</text>
<text x="1396.2" y="568.4" fill="#131722" stroke="#131722" stroke-width="0.3" textLength="36.5" lengthAdjust="spacingAndGlyphs">20.00</text>
</g>
<path d="M1386,226.2 H1454 Q1456,226.2 1456,228.2 V244.7 Q1456,246.7 1454,246.7 H1386 Z" fill="#089981"/>
<text x="1396.8" y="241.4" fill="#ffffff" stroke="#ffffff" stroke-width="0.3" textLength="51.7" lengthAdjust="spacingAndGlyphs">1.15240</text>
<path d="M1386,364 H1459 Q1461,364 1461,366 V382.6 Q1461,384.6 1459,384.6 H1386 Z" fill="#2196f3"/>
<text x="1396.8" y="379.6" fill="#ffffff" stroke="#ffffff" stroke-width="0.3" textLength="56.8" lengthAdjust="spacingAndGlyphs">-0.00432</text>
<path d="M1386,503.9 H1437.8 Q1439.8,503.9 1439.8,505.9 V522.5 Q1439.8,524.5 1437.8,524.5 H1386 Z" fill="#7e57c2"/>
<text x="1396.2" y="519.2" fill="#ffffff" stroke="#ffffff" stroke-width="0.3" textLength="36.5" lengthAdjust="spacingAndGlyphs">43.55</text>
<text x="132.5" y="590.7" text-anchor="middle" fill="#131722" textLength="23.4" lengthAdjust="spacingAndGlyphs">Sep</text>
<text x="302.5" y="590.7" text-anchor="middle" fill="#131722" textLength="22.8" lengthAdjust="spacingAndGlyphs">Oct</text>
<text x="481.5" y="590.7" text-anchor="middle" fill="#131722" textLength="24.6" lengthAdjust="spacingAndGlyphs">Nov</text>
<text x="636.5" y="590.7" text-anchor="middle" fill="#131722" textLength="25" lengthAdjust="spacingAndGlyphs">Dec</text>
<text x="815.5" y="590.7" text-anchor="middle" font-weight="bold" fill="#131722" textLength="33.8" lengthAdjust="spacingAndGlyphs">2026</text>
<text x="986.5" y="590.7" text-anchor="middle" fill="#131722" textLength="23.5" lengthAdjust="spacingAndGlyphs">Feb</text>
<text x="1141.5" y="590.7" text-anchor="middle" fill="#131722" textLength="24.5" lengthAdjust="spacingAndGlyphs">Mar</text>
<text x="1312.5" y="590.7" text-anchor="middle" fill="#131722" textLength="23.5" lengthAdjust="spacingAndGlyphs">Apr</text>
<path d="M0,0 H1467 V604 H0 Z M1.5,1.9 V602 H1465 V1.9 Z" fill="#edeff4" fill-rule="evenodd"/>
<rect x="1" y="312" width="1465" height="1" fill="#e0e3eb"/>
<rect x="1" y="426" width="1465" height="1" fill="#e0e3eb"/>
</svg>
</body></html>
